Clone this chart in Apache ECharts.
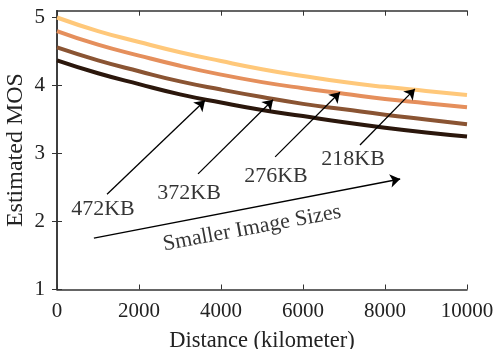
<!DOCTYPE html>
<html><head><meta charset="utf-8">
<script src="https://cdn.jsdelivr.net/npm/echarts@6/dist/echarts.min.js"></script>
<style>html,body{margin:0;padding:0;background:#fff}#c{width:497px;height:349px}</style>
</head><body><div id="c"></div>
<script>
// Data
var distances = [0,1000,2000,3000,4000,5000,6000,7000,8000,9000,10000];
var mos218 = [5.00,4.80,4.64,4.49,4.36,4.24,4.14,4.05,3.98,3.92,3.86];
var mos276 = [4.80,4.60,4.44,4.29,4.16,4.05,3.96,3.88,3.80,3.74,3.68];
var mos372 = [4.56,4.37,4.21,4.06,3.94,3.83,3.73,3.65,3.57,3.50,3.43];
var mos472 = [4.37,4.18,4.02,3.87,3.75,3.64,3.55,3.46,3.38,3.31,3.25];
var seriesNames = ['218KB','276KB','372KB','472KB'];
var xTicks = [0,2000,4000,6000,8000,10000];
var yTicks = [1,2,3,4,5];
// Annotation arrows (data coords): [tail, tip]
var arrows = [
  [[1220,2.40],[3610,3.78]],
  [[3440,2.70],[5270,3.79]],
  [[5320,2.95],[6900,3.90]],
  [[7390,3.125],[8730,3.95]],
  [[900,1.757],[8370,2.625]]
];
var labelTexts = ['472KB','372KB','276KB','218KB'];
var labelPos = [[1120,2.18],[3220,2.42],[5340,2.67],[7220,2.92]];
var sizeLabel = 'Smaller Image Sizes';
var sizeLabelPos = [4756,1.90];

var colors = ['#FFC87A','#E58F5C','#8A5433','#2B170C'];
var font = 'Liberation Serif';
var chart = echarts.init(document.getElementById('c'));
function pairs(vals){return distances.map(function(d,i){return [d,vals[i]];});}
var allVals=[mos218,mos276,mos372,mos472];
var series = allVals.map(function(v,i){
  return {type:'line',name:seriesNames[i],data:pairs(v),smooth:true,showSymbol:false,
    lineStyle:{color:colors[i],width:4},itemStyle:{color:colors[i]},z:2};
});
series.push({type:'line',data:[],markLine:{silent:true,symbol:['none','arrow'],symbolSize:10,
  lineStyle:{color:'#000',width:1.3,type:'solid'},itemStyle:{color:'#000'},label:{show:false},
  data:arrows.map(function(a){return [{coord:a[0]},{coord:a[1]}];})},z:5});
series.push({type:'scatter',symbolSize:0,data:labelPos.map(function(p,i){return {value:p,name:labelTexts[i]};}),
  label:{show:true,position:'inside',formatter:function(p){return p.name;},color:'#000',fontFamily:font,fontSize:22},z:6});
series.push({type:'scatter',symbolSize:0,data:[{value:sizeLabelPos,name:sizeLabel}],
  label:{show:true,position:'inside',rotate:10.5,formatter:function(p){return p.name;},color:'#000',fontFamily:font,fontSize:22},z:6});

var axisCol='#333';
chart.setOption({
  animation:false,
  grid:{left:57,right:30,top:10.7,bottom:59.5,outerBoundsMode:'none',containLabel:false},
  xAxis:[{type:'value',min:0,max:10000,interval:2000,
    name:'Distance (kilometer)',nameLocation:'middle',nameGap:40,nameMoveOverlap:false,
    nameTextStyle:{fontFamily:font,fontSize:22.5,color:'#222'},
    axisLine:{show:true,lineStyle:{color:axisCol,width:1.5}},
    axisTick:{inside:true,length:5,lineStyle:{color:axisCol}},
    axisLabel:{fontFamily:font,fontSize:21,color:'#222',margin:11,
      formatter:function(v){return xTicks.indexOf(v)>=0?String(v):'';}},
    splitLine:{show:false}},
   {type:'value',position:'top',min:0,max:10000,interval:2000,
    axisLine:{show:true,lineStyle:{color:axisCol,width:1.5}},
    axisTick:{inside:true,length:5,lineStyle:{color:axisCol}},
    axisLabel:{show:false},splitLine:{show:false}}],
  yAxis:[{type:'value',min:1,max:5.1,interval:1,
    name:'Estimated MOS',nameLocation:'middle',nameGap:29,nameMoveOverlap:false,
    nameTextStyle:{fontFamily:font,fontSize:24,color:'#222'},
    axisLine:{show:true,lineStyle:{color:axisCol,width:1.5}},
    axisTick:{inside:true,length:5,lineStyle:{color:axisCol},
      customValues:yTicks},
    axisLabel:{fontFamily:font,fontSize:21,color:'#222',margin:12,customValues:yTicks,
      formatter:function(v){return yTicks.indexOf(v)>=0?String(v):'';}},
    splitLine:{show:false}},
   {type:'value',position:'right',min:1,max:5.1,interval:1,
    axisLine:{show:true,lineStyle:{color:axisCol,width:1.5}},
    axisTick:{inside:true,length:5,lineStyle:{color:axisCol},customValues:yTicks},
    axisLabel:{show:false},splitLine:{show:false}}],
  series:series
});
</script></body></html>
